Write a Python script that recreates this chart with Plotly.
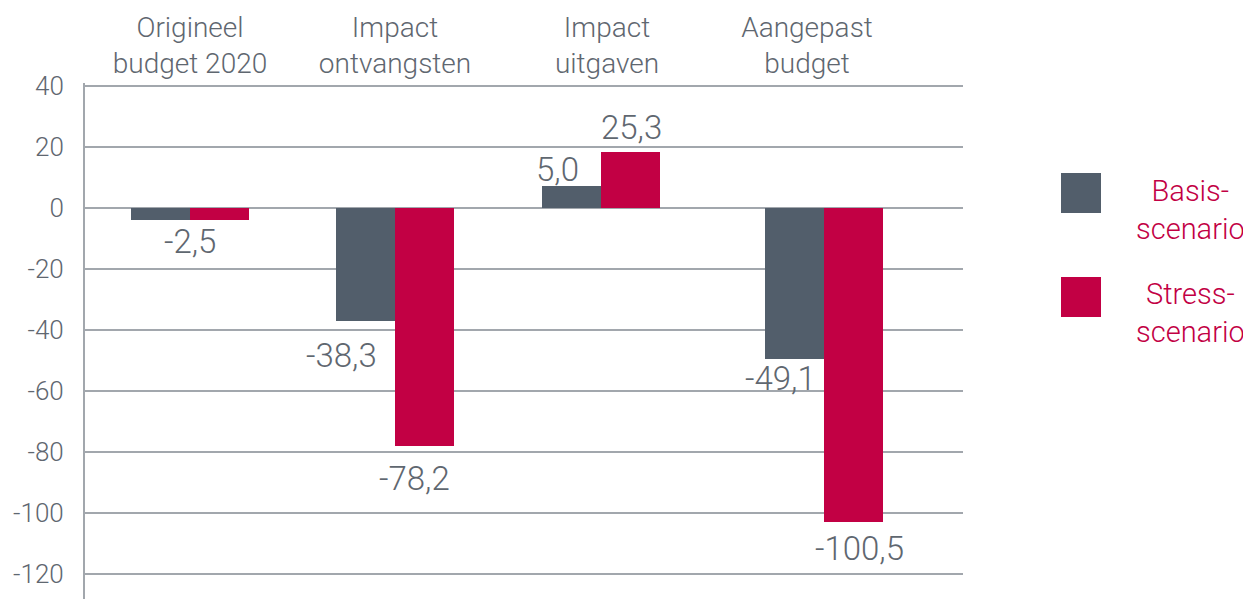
import plotly.graph_objects as go

# ---- data ----
categories = ["Origineel<br>budget 2020", "Impact<br>ontvangsten", "Impact<br>uitgaven", "Aangepast<br>budget"]
basis_values = [-3.9, -37.0, 7.2, -49.5]
stress_values = [-3.9, -78.0, 18.4, -103.0]
basis_labels = ["-2,5", "-38,3", "5,0", "-49,1"]
stress_labels = ["", "-78,2", "25,3", "-100,5"]
series_names = ["Basis-<br>scenario", "Stress-<br>scenario"]
y_ticks = [40, 20, 0, -20, -40, -60, -80, -100, -120]

# ---- style ----
OFF = 8                                   # page body margin
W, H = 1251 - OFF, 599 - OFF
ML, MR, MT, MB = 85 - OFF, 288, 83 - OFF, 0
group_pos = [105, 310, 516, 739]          # group centres (axis units = px)
cat_label_pos = [105, 310, 522, 722]      # category label centres
bar_w = 59
GRAY = "#525E6B"
RED = "#C20044"
TXT = "#5F6770"
GRID = "#A2A7AD"
FONT = "Roboto"

fig = go.Figure()
fig.add_trace(go.Bar(x=group_pos, y=basis_values, width=bar_w, offset=-bar_w,
                     marker=dict(color=GRAY, line=dict(width=0)), name="Basis"))
fig.add_trace(go.Bar(x=group_pos, y=stress_values, width=bar_w, offset=0,
                     marker=dict(color=RED, line=dict(width=0)), name="Stress"))

annotations = []
lab_font = dict(family=FONT, size=33, color=TXT, weight=300)
# label offsets (px) relative to bar end
basis_shift = [(0, -22), (-24, -35), (-14, 17), (-14, -20)]
stress_shift = [(0, 0), (-10, -33), (1, 24), (6, -26)]
for i, g in enumerate(group_pos):
    if i == 0:
        xs, ys = basis_shift[i]
        annotations.append(dict(x=g, y=basis_values[i], xref="x", yref="y", text=basis_labels[i],
                                showarrow=False, xanchor="center", yanchor="middle",
                                xshift=xs, yshift=ys, font=lab_font))
        continue
    xs, ys = basis_shift[i]
    annotations.append(dict(x=g - bar_w / 2, y=basis_values[i], xref="x", yref="y", text=basis_labels[i],
                            showarrow=False, xanchor="center", yanchor="middle",
                            xshift=xs, yshift=ys, font=lab_font))
    xs, ys = stress_shift[i]
    annotations.append(dict(x=g + bar_w / 2, y=stress_values[i], xref="x", yref="y", text=stress_labels[i],
                            showarrow=False, xanchor="center", yanchor="middle",
                            xshift=xs, yshift=ys, font=lab_font))

# legend (manual), positions given in screen px
PW, PH = W - ML - MR, H - MT - MB
def px_x(px):
    return (px - OFF - ML) / PW
def px_y(py):
    return (H - MB - (py - OFF)) / PH

shapes = []
legend_sq = [(1061, 173), (1061, 277)]
legend_txt_y = [210, 313]
for (sx, sy), col, name, ty in zip(legend_sq, [GRAY, RED], series_names, legend_txt_y):
    shapes.append(dict(type="rect", xref="paper", yref="paper",
                       x0=px_x(sx), x1=px_x(sx + 40), y0=px_y(sy + 40), y1=px_y(sy),
                       fillcolor=col, line=dict(width=0)))
    annotations.append(dict(x=px_x(1190), y=px_y(ty), xref="paper", yref="paper", text=name,
                            showarrow=False, xanchor="center", yanchor="middle", align="center",
                            font=dict(family=FONT, size=29, color=RED, weight=300)))

fig.update_layout(
    width=W, height=H,
    margin=dict(l=ML, r=MR, t=MT, b=MB, pad=0),
    paper_bgcolor="white", plot_bgcolor="white",
    showlegend=False,
    bargap=0, barmode="overlay",
    font=dict(family=FONT, color=TXT),
    shapes=shapes,
    annotations=annotations,
    xaxis=dict(range=[0, PW], side="top", tickvals=cat_label_pos, ticktext=categories,
               showgrid=False, zeroline=False, showline=False, ticks="",
               ticklabelstandoff=3,
               tickfont=dict(family=FONT, size=28, color=TXT, weight=300)),
    yaxis=dict(range=[-128.2, 41.0], tickvals=y_ticks, ticktext=[str(v) for v in y_ticks],
               showgrid=True, gridcolor=GRID, gridwidth=1.5, zeroline=False,
               showline=True, linecolor=GRID, linewidth=2, ticks="",
               ticklabelstandoff=14,
               tickfont=dict(family=FONT, size=26, color=TXT, weight=300)),
)

fig.write_html("out.html")
